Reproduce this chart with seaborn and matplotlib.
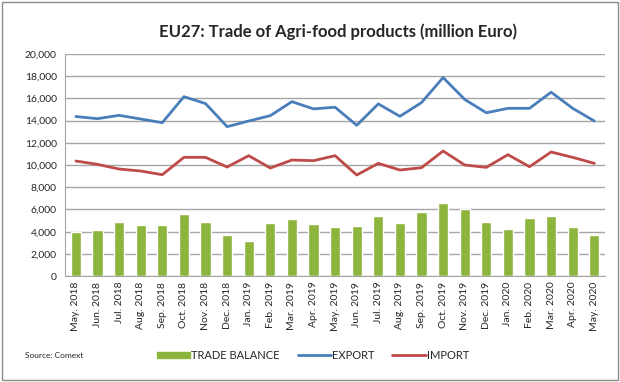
import numpy as np
import pandas as pd
import seaborn as sns
import matplotlib.pyplot as plt
from matplotlib.patches import Rectangle, Patch
from matplotlib.lines import Line2D
from matplotlib.ticker import FuncFormatter

months = ["May. 2018", "Jun. 2018", "Jul. 2018", "Aug. 2018", "Sep. 2018", "Oct. 2018",
          "Nov. 2018", "Dec. 2018", "Jan. 2019", "Feb. 2019", "Mar. 2019", "Apr. 2019",
          "May. 2019", "Jun. 2019", "Jul. 2019", "Aug. 2019", "Sep. 2019", "Oct. 2019",
          "Nov. 2019", "Dec. 2019", "Jan. 2020", "Feb. 2020", "Mar. 2020", "Apr. 2020",
          "May. 2020"]
export = [14360, 14170, 14470, 14140, 13810, 16150, 15530, 13450, 13960, 14440, 15700, 15050,
          15200, 13570, 15500, 14380, 15620, 17870, 15900, 14700, 15100, 15100, 16550, 15100,
          13960]
imports = [10360, 10060, 9640, 9460, 9130, 10690, 10690, 9820, 10840, 9730, 10450, 10390,
           10840, 9100, 10150, 9550, 9760, 11260, 10000, 9790, 10930, 9850, 11170, 10690,
           10150]
balance = [3990, 4110, 4830, 4620, 4620, 5550, 4830, 3720, 3150, 4740, 5140, 4650,
           4400, 4500, 5400, 4770, 5800, 6600, 6000, 4900, 4230, 5250, 5430, 4400,
           3750]

df = pd.DataFrame({"month": months, "export": export, "import": imports, "balance": balance})

sns.set_style("white")
plt.rcParams['font.family'] = ['Lato', 'DejaVu Sans']

green = "#8DB43C"
blue = "#4A7EBB"
red = "#BE4B48"

fig = plt.figure(figsize=(6.2, 3.82), dpi=100)
ax = fig.add_axes([0.105, 0.277, 0.871, 0.582])

sns.barplot(data=df, x="month", y="balance", color=green, width=0.47, saturation=1, ax=ax, zorder=2)
sns.lineplot(data=df, x="month", y="export", color=blue, lw=2, ax=ax, zorder=3)
sns.lineplot(data=df, x="month", y="import", color=red, lw=2, ax=ax, zorder=3)

ax.set_ylim(0, 20000)
ax.set_xlim(-0.5, len(months) - 0.5)
ax.set_yticks(np.arange(0, 20001, 2000))
ax.yaxis.set_major_formatter(FuncFormatter(lambda v, p: f"{int(v):,}"))
ax.grid(axis="y", color="#A6A6A6", lw=1, zorder=0)
ax.set_axisbelow(True)
ax.set_xlabel("")
ax.set_ylabel("")
ax.tick_params(axis="x", labelrotation=90, labelsize=7.5, length=0, pad=4)
ax.tick_params(axis="y", labelsize=7.5, length=0, pad=6)
ax.set_xticks(np.arange(-0.5, len(months), 1), minor=True)
ax.tick_params(axis="x", which="minor", length=3, color="#A6A6A6")
for s in ["top", "right"]:
    ax.spines[s].set_visible(False)
for s in ["left", "bottom"]:
    ax.spines[s].set_color("#A6A6A6")

fig.text(0.545, 0.918, "EU27: Trade of Agri-food products (million Euro)",
         ha="center", va="center", fontsize=12, fontweight="bold")
fig.text(0.04, 0.07, "Source: Comext", fontsize=6, va="center")

handles = [Patch(color=green), Line2D([], [], color=blue, lw=2), Line2D([], [], color=red, lw=2)]
fig.legend(handles, ["TRADE BALANCE", "EXPORT", "IMPORT"], loc="center", bbox_to_anchor=(0.505, 0.07),
           ncol=3, frameon=False, fontsize=8, handlelength=3, handleheight=0.5,
           handletextpad=0.1, columnspacing=1.6)

fig.patches.append(Rectangle((0.003, 0.005), 0.994, 0.99, transform=fig.transFigure,
                             fill=False, edgecolor="#8C8C8C", lw=1))

fig.savefig("out.png", dpi=100)
